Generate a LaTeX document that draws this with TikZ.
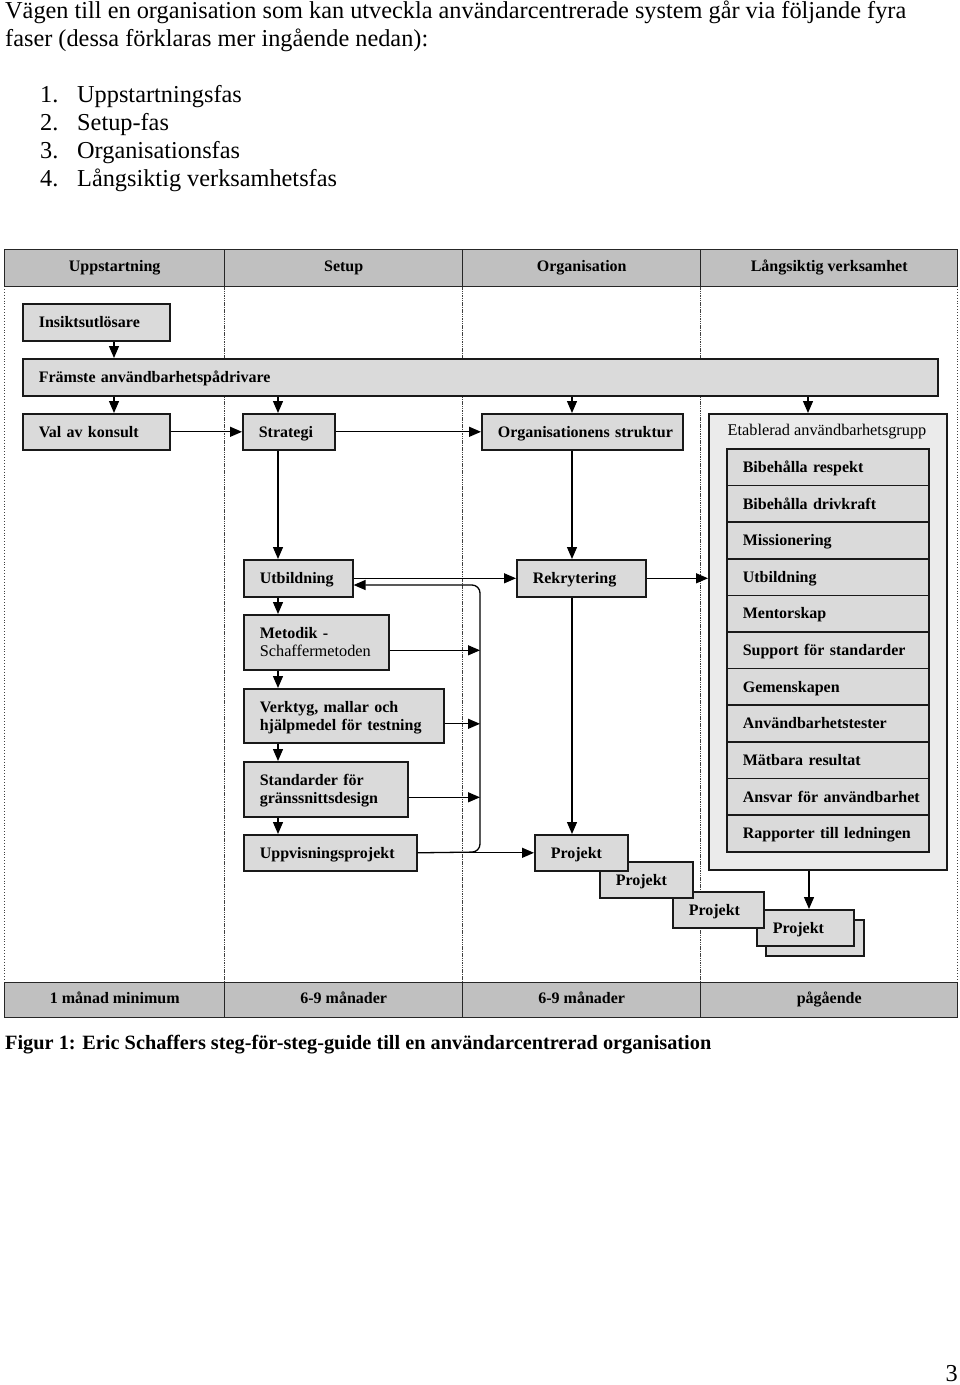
\documentclass[tikz,border=0pt]{standalone}
\usepackage{fontspec}
\setmainfont{Liberation Serif}
\usetikzlibrary{arrows.meta,calc}
\definecolor{hdr}{HTML}{C0C0C0}
\definecolor{bxg}{HTML}{DADADA}
\definecolor{grpg}{HTML}{EBEBEB}
\newcommand\bfs{\fontsize{16}{18}\selectfont\bfseries}
\newcommand\rms{\fontsize{16.3}{18}\selectfont}
\newcommand\maintxt{\fontsize{24.3}{28}\selectfont}
\newcommand\captxt{\fontsize{20.3}{24}\selectfont\bfseries}
\newcommand\bnode[7][]{%
  \pgfmathsetmacro\bnw{#5-#3}\pgfmathsetmacro\bnh{#6-#4}\pgfmathsetmacro\bntw{#5-#3-32}%
  \node[box,anchor=north west,minimum width=\bnw pt,minimum height=\bnh pt,text width=\bntw pt,#1] (#2) at (#3,#4) {\begin{tabular}{@{}l@{}}\rule{0pt}{16pt}#7\end{tabular}};}
\tikzset{
  box/.style={draw=black!90,line width=1.6pt,fill=bxg,inner xsep=16pt,inner ysep=0pt,align=left,font=\bfs},
  cell/.style={draw=black!85,line width=1.4pt,fill=hdr,inner sep=0pt,font=\bfs,anchor=north west,text height=11pt,text depth=3.5pt},
  arr/.style={draw=black,line width=1.3pt,-{Triangle[length=12pt,width=10pt]}},
  outerdiv/.style={draw=black!75,line width=0.9pt,dotted},
  innerdiv/.style={draw=black!75,line width=0.9pt,dash pattern=on 1.5pt off 0.8pt},
  txt/.style={font=\maintxt,anchor=base west,inner sep=0pt}
}
\begin{document}
\begin{tikzpicture}[x=1pt,y=-1pt]
\useasboundingbox (0,0) rectangle (960,1385);
% intro text
\node[txt] (l1) at (5,18) {Vägen till en organisation som kan utveckla användarcentrerade system går via följande fyra};
\node[txt] (l2) at (5,46) {faser (dessa förklaras mer ingående nedan):};
\node[txt] (n1) at (40,102) {1.};\node[txt] (t1) at (77,102) {Uppstartningsfas};
\node[txt] (n2) at (40,130) {2.};\node[txt] (t2) at (77,130) {Setup-fas};
\node[txt] (n3) at (40,158) {3.};\node[txt] (t3) at (77,158) {Organisationsfas};
\node[txt] (n4) at (40,186) {4.};\node[txt] (t4) at (77,186) {Långsiktig verksamhetsfas};
% body dividers
\draw[outerdiv] (4,286) -- (4,982);
\draw[outerdiv] (957,286) -- (957,982);
\draw[innerdiv] (224,286) -- (224,982);
\draw[innerdiv] (462,286) -- (462,982);
\draw[innerdiv] (700,286) -- (700,982);
% header
\node[cell,minimum width=220pt,minimum height=37pt] (h1) at (4,249) {Uppstartning};
\node[cell,minimum width=238pt,minimum height=37pt] (h2) at (224,249) {Setup};
\node[cell,minimum width=238pt,minimum height=37pt] (h3) at (462,249) {Organisation};
\node[cell,minimum width=257pt,minimum height=37pt] (h4) at (700,249) {Långsiktig verksamhet};
% footer
\node[cell,minimum width=220pt,minimum height=35pt] (f1) at (4,982) {1 månad minimum};
\node[cell,minimum width=238pt,minimum height=35pt] (f2) at (224,982) {6-9 månader};
\node[cell,minimum width=238pt,minimum height=35pt] (f3) at (462,982) {6-9 månader};
\node[cell,minimum width=257pt,minimum height=35pt] (f4) at (700,982) {pågående};
% column coordinates
\coordinate (cA) at (114,0);
\coordinate (cB) at (278,0);
\coordinate (cC) at (572,0);
\coordinate (cD) at (808,0);
\coordinate (cE) at (809,0);
% boxes
\bnode{ins}{22}{303}{169}{340}{Insiktsutlösare}
\bnode{fr}{22}{358}{937}{395}{Främste användbarhetspådrivare}
\bnode{val}{22}{413}{169}{449}{Val av konsult}
\bnode{str}{242}{413}{334}{449}{Strategi}
\bnode{org}{481}{413}{682}{449}{Organisationens struktur}
\bnode[fill=grpg]{grp}{708}{413}{946}{869}{}
\node[font=\rms,anchor=center,inner sep=0pt,text height=11pt,text depth=3.5pt] (grpt) at (827,432) {Etablerad användbarhetsgrupp};
\foreach [count=\i] \t in {Bibehålla respekt,Bibehålla drivkraft,Missionering,Utbildning,Mentorskap,Support för standarder,Gemenskapen,Användbarhetstester,Mätbara resultat,Ansvar för användbarhet,Rapporter till ledningen}{
  \pgfmathsetmacro\ya{448+(\i-1)*36.64}\pgfmathsetmacro\yb{\ya+36.64}
  \bnode{it\i}{726}{\ya}{928}{\yb}{\t}
}
\bnode{utb}{243}{559}{352}{596}{Utbildning}
\bnode{rek}{516}{559}{645}{596}{Rekrytering}
\bnode{met}{243}{614}{388}{669}{Metodik -\\{\mdseries\rms Schaffermetoden}}
\bnode{ver}{243}{688}{443}{742}{Verktyg, mallar och\\hjälpmedel för testning}
\bnode{std}{243}{761}{407}{816}{Standarder för\\gränssnittsdesign}
\bnode{upp}{243}{834}{416}{870}{Uppvisningsprojekt}
% projekt boxes (back to front)
\bnode{p4b}{765}{919}{863}{955}{}
\bnode{p4}{756}{909}{853}{945}{Projekt}
\bnode{p3}{672}{891}{763}{927}{Projekt}
\bnode{p2}{599}{861}{692}{897}{Projekt}
\bnode{p1}{534}{834}{627}{870}{Projekt}
% connectors
\draw[arr] (ins.south -| cA) -- (fr.north -| cA);
\draw[arr] (fr.south -| cA) -- (val.north -| cA);
\draw[arr] (fr.south -| cB) -- (str.north -| cB);
\draw[arr] (fr.south -| cC) -- (org.north -| cC);
\draw[arr] (fr.south -| cD) -- (grp.north -| cD);
\draw[arr] (val.east) -- (str.west);
\draw[arr] (str.east) -- (org.west);
\draw[arr] (str.south -| cB) -- (utb.north -| cB);
\draw[arr] (org.south -| cC) -- (rek.north -| cC);
\draw[arr] (utb.east) -- (rek.west);
\draw[arr] (rek.east) -- (rek.east -| grp.west);
\draw[arr] (rek.south -| cC) -- (p1.north -| cC);
\draw[arr] (utb.south -| cB) -- (met.north -| cB);
\draw[arr] (met.south -| cB) -- (ver.north -| cB);
\draw[arr] (ver.south -| cB) -- (std.north -| cB);
\draw[arr] (std.south -| cB) -- (upp.north -| cB);
\coordinate (busT) at (480,585);
\coordinate (busB) at (480,852);
\draw[arr] (upp.east) -- (p1.west);
\draw[arr,rounded corners=8pt] (upp.east) -- (busB) -- (busT) -- (busT -| utb.east);
\draw[arr] ([yshift=-8pt]met.east) -- ([yshift=-8pt]met.east -| busT);
\draw[arr] ([yshift=-8pt]ver.east) -- ([yshift=-8pt]ver.east -| busT);
\draw[arr] ([yshift=-8pt]std.east) -- ([yshift=-8pt]std.east -| busT);
\draw[arr] (grp.south -| cE) -- (p4.north -| cE);
% caption and page number
\node[txt,font=\captxt] (cap) at (5,1049) {Figur 1: Eric Schaffers steg-för-steg-guide till en användarcentrerad organisation};
\node[font=\maintxt,anchor=base east,inner sep=0pt] (pg) at (958,1381) {3};
\end{tikzpicture}
\end{document}
